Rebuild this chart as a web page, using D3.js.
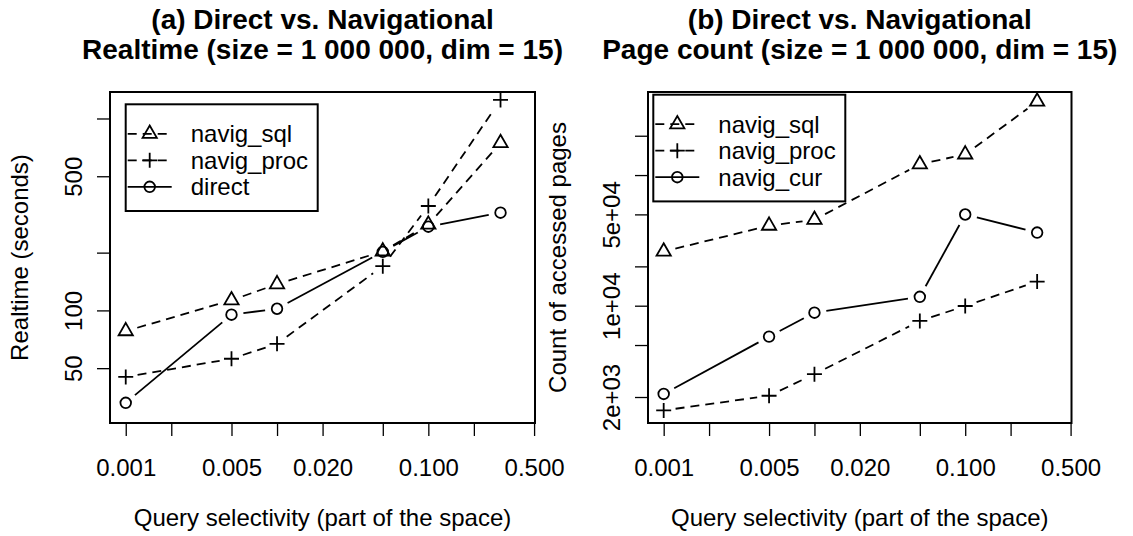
<!DOCTYPE html>
<html lang="en">
<head>
<meta charset="UTF-8">
<title>Direct vs. Navigational</title>
<script src="https://cdnjs.cloudflare.com/ajax/libs/d3/7.8.5/d3.min.js"></script>
<style>
  body { margin: 0; background: #fff; }
  svg text { font-family: "Liberation Sans", Arial, Helvetica, sans-serif; fill: #000; }
  .title { font-size: 28px; font-weight: bold; }
  .lab { font-size: 24px; }
  .axis text { font-size: 24px; }
  .axis line { stroke: #000; stroke-width: 1.3; }
  .axis path { display: none; }
</style>
</head>
<body>
<div id="chart"></div>
<script>
// data
var selectivity = [0.001, 0.005, 0.01, 0.05, 0.1, 0.3];

var realtimeSql    = [78, 113, 137, 203, 280, 745];
var realtimeProc   = [45, 56, 67, 170, 350, 1250];
var realtimeDirect = [33, 95, 102, 202, 273, 323];

var pagesSql  = [26000, 41000, 45500, 121000, 144000, 365000];
var pagesProc = [1580, 2045, 2990, 7640, 9950, 15300];
var pagesCur  = [2110, 5800, 8840, 11700, 49900, 36300];

var xTicks  = [0.001, 0.002, 0.005, 0.01, 0.02, 0.05, 0.1, 0.2, 0.5];
var xLabels = [0.001, 0.005, 0.02, 0.1, 0.5];

var realtimeTicks  = [50, 100, 200, 500, 1000];
var realtimeLabels = [50, 100, 500];
var pagesTicks  = [2000, 5000, 10000, 20000, 50000, 100000, 200000];
var pagesLabels = [2000, 10000, 50000];

var W = 1133, H = 536;
var top_ = 92, bottom = 423;
var R = 5.3;      // symbol radius
var GAP = 12;     // type="b" gap around points

var svg = d3.select("#chart").append("svg")
  .attr("width", W).attr("height", H);
svg.append("rect").attr("width", W).attr("height", H).attr("fill", "#fff");

// R style "1e+04"
function sci(v) {
  var s = v.toExponential(0).split("e");
  var e = parseInt(s[1], 10);
  return s[0] + "e" + (e < 0 ? "-" : "+") + (Math.abs(e) < 10 ? "0" : "") + Math.abs(e);
}

var panels = [
  {
    left: 110, right: 535,
    title: ["(a) Direct vs. Navigational", "Realtime (size = 1 000 000, dim = 15)"],
    ylab: "Realtime (seconds)",
    yDomain: [25.9, 1374],
    yTicks: realtimeTicks, yLabels: realtimeLabels, fmt: function(d){ return String(d); },
    series: [
      {name: "navig_sql", values: realtimeSql, pch: "tri", dash: true},
      {name: "navig_proc", values: realtimeProc, pch: "plus", dash: true},
      {name: "direct", values: realtimeDirect, pch: "circle", dash: false}
    ],
    legend: {x: 125.7, y: 104.3}
  },
  {
    left: 648, right: 1071.5,
    title: ["(b) Direct vs. Navigational", "Page count (size = 1 000 000, dim = 15)"],
    ylab: "Count of accessed pages",
    yDomain: [1265, 432300],
    yTicks: pagesTicks, yLabels: pagesLabels, fmt: sci,
    series: [
      {name: "navig_sql", values: pagesSql, pch: "tri", dash: true},
      {name: "navig_proc", values: pagesProc, pch: "plus", dash: true},
      {name: "navig_cur", values: pagesCur, pch: "circle", dash: false}
    ],
    legend: {x: 653.3, y: 94.7}
  }
];

// R pch 1, 2, 3
function drawPoint(g, pch, cx, cy) {
  if (pch == "circle") {
    g.append("circle").attr("cx", cx).attr("cy", cy).attr("r", R)
      .attr("fill", "none").attr("stroke", "#000").attr("stroke-width", 1.8);
  } else if (pch == "tri") {
    var pts = [[cx, cy - 1.555 * R], [cx + 1.347 * R, cy + 0.778 * R], [cx - 1.347 * R, cy + 0.778 * R]];
    g.append("path").attr("d", "M" + pts.join("L") + "Z")
      .attr("fill", "none").attr("stroke", "#000").attr("stroke-width", 1.8);
  } else {
    var a = 1.414 * R;
    g.append("path").attr("d", "M" + (cx - a) + "," + cy + "H" + (cx + a) + "M" + cx + "," + (cy - a) + "V" + (cy + a))
      .attr("stroke", "#000").attr("stroke-width", 1.8);
  }
}

panels.forEach(function(p) {
  var x = d3.scaleLog().domain([0.000787, 0.507]).range([p.left, p.right]);
  var y = d3.scaleLog().domain(p.yDomain).range([bottom, top_]);
  var cx = (p.left + p.right) / 2;
  var g = svg.append("g");

  //titulo
  g.selectAll(".title").data(p.title).enter().append("text")
    .attr("class", "title")
    .attr("text-anchor", "middle")
    .attr("x", cx)
    .attr("y", function(d, i){ return 29 + i * 30; })
    .text(function(d){ return d; });

  //eje x
  var xAxis = d3.axisBottom(x).tickValues(xTicks).tickSize(13).tickSizeOuter(0)
    .tickFormat(function(d){ return xLabels.indexOf(d) >= 0 ? d3.format(".3f")(d) : ""; });
  var gx = g.append("g").attr("class", "axis")
    .attr("transform", "translate(0," + bottom + ")").call(xAxis);
  gx.selectAll("text").attr("y", 53).attr("dy", 0);

  //eje y
  var yAxis = d3.axisLeft(y).tickValues(p.yTicks).tickSize(13).tickSizeOuter(0)
    .tickFormat(function(d){ return p.yLabels.indexOf(d) >= 0 ? p.fmt(d) : ""; });
  var gy = g.append("g").attr("class", "axis")
    .attr("transform", "translate(" + p.left + ",0)").call(yAxis);
  gy.selectAll("text")
    .attr("x", 0).attr("dy", 0).attr("y", 0)
    .attr("text-anchor", "middle")
    .attr("transform", "translate(-28,0) rotate(-90)");

  //axis titles
  g.append("text").attr("class", "lab")
    .attr("text-anchor", "middle")
    .attr("x", cx).attr("y", 526)
    .text("Query selectivity (part of the space)");
  g.append("text").attr("class", "lab")
    .attr("text-anchor", "middle")
    .attr("transform", "translate(" + (p.left - 82) + "," + ((top_ + bottom) / 2) + ") rotate(-90)")
    .text(p.ylab);

  //series
  p.series.forEach(function(s) {
    var pts = selectivity.map(function(d, i){ return [x(d), y(s.values[i])]; });
    for (var i = 0; i < pts.length - 1; i++) {
      var a = pts[i], b = pts[i + 1];
      var dx = b[0] - a[0], dy = b[1] - a[1], len = Math.sqrt(dx * dx + dy * dy);
      if (len <= 2 * GAP) continue;
      var ux = dx / len, uy = dy / len;
      g.append("line")
        .attr("x1", a[0] + ux * GAP).attr("y1", a[1] + uy * GAP)
        .attr("x2", b[0] - ux * GAP).attr("y2", b[1] - uy * GAP)
        .attr("stroke", "#000").attr("stroke-width", 1.8)
        .attr("stroke-dasharray", s.dash ? "9,6" : null);
    }
    pts.forEach(function(q){ drawPoint(g, s.pch, q[0], q[1]); });
  });

  //caja
  g.append("rect")
    .attr("x", p.left).attr("y", top_)
    .attr("width", p.right - p.left).attr("height", bottom - top_)
    .attr("fill", "none").attr("stroke", "#000").attr("stroke-width", 2);

  //leyenda
  var lg = g.append("g").attr("transform", "translate(" + p.legend.x + "," + p.legend.y + ")");
  lg.append("rect").attr("width", 192).attr("height", 106.7)
    .attr("fill", "#fff").attr("stroke", "#000").attr("stroke-width", 2);
  p.series.forEach(function(s, i) {
    var ry = 29.5 + i * 26.5;
    lg.append("line").attr("x1", 2).attr("x2", 46).attr("y1", ry).attr("y2", ry)
      .attr("stroke", "#000").attr("stroke-width", 1.8)
      .attr("stroke-dasharray", s.dash ? "9,6" : null);
    drawPoint(lg, s.pch, 24, ry);
    lg.append("text").attr("class", "lab")
      .attr("x", 65).attr("y", ry).attr("dy", "0.35em")
      .text(s.name);
  });
});
</script>
</body>
</html>
